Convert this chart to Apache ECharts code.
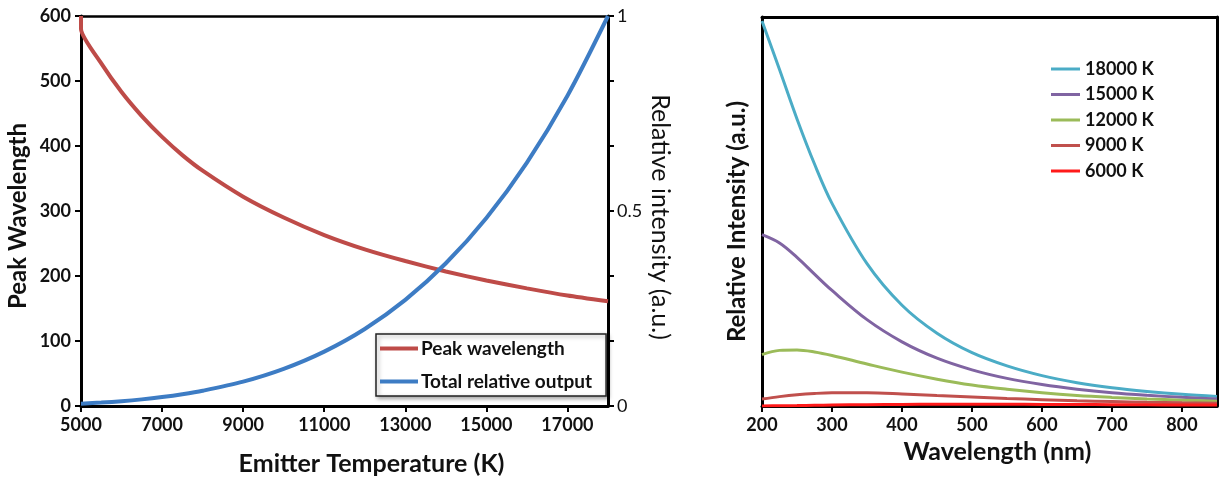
<!DOCTYPE html>
<html>
<head>
<meta charset="utf-8">
<script src="https://cdn.jsdelivr.net/npm/echarts@6/dist/echarts.min.js"></script>
<style>
html,body{margin:0;padding:0;background:#fff;}
#chart{width:1220px;height:481px;}
</style>
</head>
<body>
<div id="chart"></div>
<script>
// ---- Left chart data ----
const tempK = [5000, 5000, 5500, 6000, 6500, 7000, 7500, 8000, 9000, 10000, 11000, 12000, 13000, 14000, 15000, 16000, 17000, 18000];
const peakWavelength = [600, 580, 527, 483, 446, 414, 386, 362, 322, 290, 263, 241, 223, 207, 193, 181, 170, 161];
const tempK2 = [5000, 5500, 6000, 6500, 7000, 7500, 8000, 9000, 10000, 11000, 12000, 13000, 14000, 15000, 16000, 17000, 18000];
const totalOutput = [0.006, 0.0087, 0.0123, 0.017, 0.0229, 0.0301, 0.039, 0.0625, 0.0953, 0.1395, 0.1975, 0.2721, 0.366, 0.4823, 0.6243, 0.7957, 1.0];

// ---- Right chart data ----
const wavelengths = [200, 225, 250, 275, 300, 350, 400, 450, 500, 550, 600, 650, 700, 750, 800, 850];
const i18000 = [0.990, 0.865, 0.738, 0.622, 0.521, 0.366, 0.259, 0.187, 0.137, 0.103, 0.078, 0.060, 0.047, 0.0375, 0.030, 0.0244];
const i15000 = [0.4405, 0.419, 0.382, 0.339, 0.297, 0.222, 0.165, 0.123, 0.093, 0.071, 0.055, 0.043, 0.034, 0.0275, 0.0223, 0.0182];
const i12000 = [0.132, 0.143, 0.144, 0.139, 0.130, 0.108, 0.087, 0.069, 0.054, 0.043, 0.034, 0.027, 0.022, 0.018, 0.015, 0.012];
const i9000 = [0.0179, 0.0241, 0.0290, 0.0322, 0.0339, 0.0338, 0.0309, 0.0270, 0.0231, 0.0194, 0.0163, 0.0136, 0.0114, 0.0096, 0.0081, 0.0069];
const i6000 = [0.0003, 0.0007, 0.0012, 0.0018, 0.0024, 0.0034, 0.0041, 0.0045, 0.0045, 0.0044, 0.0041, 0.0037, 0.0034, 0.0030, 0.0027, 0.0024];

const spectraNames = ['18000 K', '15000 K', '12000 K', '9000 K', '6000 K'];
const spectraValues = [i18000, i15000, i12000, i9000, i6000];
const spectraColors = ['#4BACC6', '#8064A2', '#9BBB59', '#C0504D', '#FF1A1A'];

const FONT = 'Lato, "Open Sans", sans-serif';
const zip = (xs, ys) => xs.map((x, i) => [x, ys[i]]);

const lineOnly = { show: true, onZero: false, lineStyle: { color: '#000', width: 3 } };
const tickLbl = { fontFamily: FONT, fontSize: 18, fontWeight: 'bold', color: '#111' };
const plain = v => String(v);

const chart = echarts.init(document.getElementById('chart'), null, { renderer: 'canvas' });

const option = {
  animation: false,
  backgroundColor: '#fff',
  grid: [
    { left: 81, right: 612, top: 16, bottom: 75 },
    { left: 762, right: 3, top: 17, bottom: 75 }
  ],
  xAxis: [
    {
      type: 'value', gridIndex: 0, min: 5000, max: 18000, interval: 2000,
      axisLine: lineOnly,
      axisTick: { show: true, inside: false, length: 6, lineStyle: { color: '#000', width: 2 } },
      axisLabel: Object.assign({ margin: 10, showMaxLabel: false, formatter: plain }, tickLbl),
      splitLine: { show: false },
      name: 'Emitter Temperature (K)', nameLocation: 'middle', nameGap: 45,
      nameTextStyle: { fontFamily: FONT, fontSize: 25, fontWeight: 'bold', color: '#111', padding: [0, 0, 0, 54] }
    },
    {
      type: 'value', gridIndex: 0, min: 5000, max: 18000, position: 'top',
      axisLine: { show: true, onZero: false, lineStyle: { color: '#000', width: 2.5 } },
      axisTick: { show: false }, axisLabel: { show: false }, splitLine: { show: false }
    },
    {
      type: 'value', gridIndex: 1, min: 200, max: 850, interval: 100,
      axisLine: lineOnly,
      axisTick: { show: true, inside: false, length: 6, lineStyle: { color: '#000', width: 2 } },
      axisLabel: Object.assign({ margin: 10, showMaxLabel: false, formatter: plain }, tickLbl),
      splitLine: { show: false },
      name: 'Wavelength (nm)', nameLocation: 'middle', nameGap: 33,
      nameTextStyle: { fontFamily: FONT, fontSize: 25, fontWeight: 'bold', color: '#111', padding: [0, 0, 0, 16] }
    },
    {
      type: 'value', gridIndex: 1, min: 200, max: 850, position: 'top',
      axisLine: lineOnly,
      axisTick: { show: false }, axisLabel: { show: false }, splitLine: { show: false }
    }
  ],
  yAxis: [
    {
      type: 'value', gridIndex: 0, min: 0, max: 600, interval: 100,
      axisLine: lineOnly,
      axisTick: { show: true, inside: false, length: 6, lineStyle: { color: '#000', width: 2 } },
      axisLabel: Object.assign({ margin: 10 }, tickLbl),
      splitLine: { show: false },
      name: 'Peak Wavelength', nameLocation: 'middle', nameGap: 51,
      nameTextStyle: { fontFamily: FONT, fontSize: 24, fontWeight: 'bold', color: '#111', padding: [0, 10, 0, 0] }
    },
    {
      type: 'value', gridIndex: 0, min: 0, max: 1, interval: 1 / 6, position: 'right',
      axisLine: lineOnly,
      axisTick: { show: true, inside: false, length: 6, lineStyle: { color: '#000', width: 2 } },
      axisLabel: {
        margin: 9, fontFamily: FONT, fontSize: 18, color: '#111',
        formatter: v => (Math.abs(v) < 1e-6 ? '0' : Math.abs(v - 0.5) < 1e-6 ? '0.5' : Math.abs(v - 1) < 1e-6 ? '1' : '')
      },
      splitLine: { show: false },
      name: 'Relative intensity (a.u.)', nameLocation: 'middle', nameGap: 40, nameRotate: -90,
      nameTextStyle: { fontFamily: FONT, fontSize: 25, color: '#111', padding: [0, 0, 0, 12] }
    },
    {
      type: 'value', gridIndex: 1, min: 0, max: 1,
      axisLine: lineOnly,
      axisTick: { show: false }, axisLabel: { show: false }, splitLine: { show: false },
      name: 'Relative Intensity (a.u.)', nameLocation: 'middle', nameGap: 13,
      nameTextStyle: { fontFamily: FONT, fontSize: 24, fontWeight: 'bold', color: '#111', padding: [0, 20, 0, 0] }
    },
    {
      type: 'value', gridIndex: 1, min: 0, max: 1, position: 'right',
      axisLine: lineOnly,
      axisTick: { show: false }, axisLabel: { show: false }, splitLine: { show: false }
    }
  ],
  legend: [
    {
      data: [{ name: 'Peak wavelength', icon: 'rect' }, { name: 'Total relative output', icon: 'rect' }],
      orient: 'vertical', left: 376, top: 334,
      itemWidth: 38, itemHeight: 4, itemGap: 14,
      padding: [5, 14, 5, 4],
      backgroundColor: '#fff', borderColor: '#222', borderWidth: 1.5,
      shadowBlur: 4, shadowColor: 'rgba(0,0,0,0.35)', shadowOffsetX: 2, shadowOffsetY: 2,
      textStyle: { fontFamily: FONT, fontSize: 19, fontWeight: 'bold', color: '#111', padding: [0, 0, 0, -2] }
    },
    {
      data: spectraNames.map(n => ({ name: n, icon: 'rect' })),
      orient: 'vertical', left: 1046, top: 55,
      itemWidth: 29, itemHeight: 3, itemGap: 7.5,
      textStyle: { fontFamily: FONT, fontSize: 18, fontWeight: 'bold', color: '#111' }
    }
  ],
  series: [
    {
      name: 'Peak wavelength', type: 'line', xAxisIndex: 0, yAxisIndex: 0,
      data: zip(tempK, peakWavelength), smooth: 0.2, showSymbol: false,
      lineStyle: { color: '#BE4B48', width: 4 }, itemStyle: { color: '#BE4B48' }
    },
    {
      name: 'Total relative output', type: 'line', xAxisIndex: 0, yAxisIndex: 1,
      data: zip(tempK2, totalOutput), smooth: 0.3, showSymbol: false,
      lineStyle: { color: '#3D7CC4', width: 4 }, itemStyle: { color: '#3D7CC4' }
    }
  ].concat(spectraNames.map((n, k) => ({
    name: n, type: 'line', xAxisIndex: 2, yAxisIndex: 2,
    data: zip(wavelengths, spectraValues[k]), smooth: 0.35, showSymbol: false,
    lineStyle: { color: spectraColors[k], width: 3 }, itemStyle: { color: spectraColors[k] }
  })))
};

chart.setOption(option);
</script>
</body>
</html>
